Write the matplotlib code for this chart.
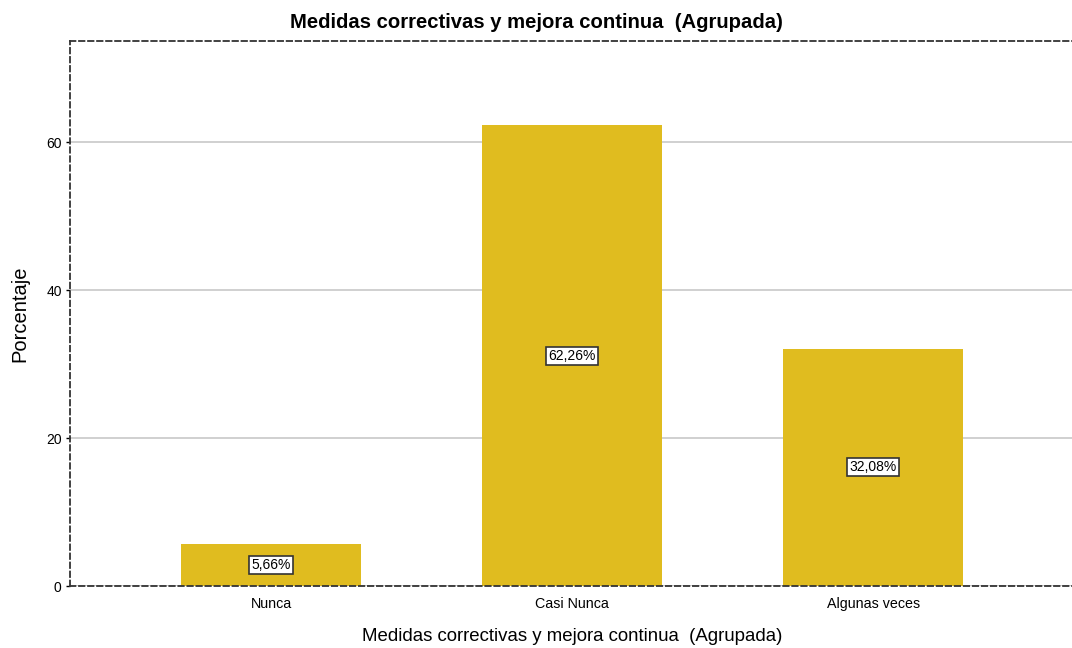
import matplotlib
matplotlib.use("Agg")
import matplotlib.pyplot as plt

categories = ["Nunca", "Casi Nunca", "Algunas veces"]
values = [5.66, 62.26, 32.08]
labels = ["5,66%", "62,26%", "32,08%"]
yticks = [0, 20, 40, 60]

plt.rcParams['font.family'] = ['Liberation Sans', 'DejaVu Sans']

fig = plt.figure(figsize=(10.72, 6.48), dpi=100)
ax = fig.add_axes([70/1072, 62/648, 1 - 70/1072 + 0.002, (586-41)/648])

x = list(range(len(categories)))
ax.bar(x, values, width=0.6, color="#E0BC1F", zorder=2)
for xi, v, lab in zip(x, values, labels):
    ax.text(xi, v/2, lab, ha="center", va="center", fontsize=10,
            bbox=dict(boxstyle="square,pad=0.15", fc="white", ec="#333333", lw=1.2), zorder=3)

ax.set_xlim(-0.668, 2.668)
ax.set_ylim(0, 73.65)
ax.set_yticks(yticks)
ax.set_yticklabels([str(t) for t in yticks], fontsize=10)
ax.set_xticks(x)
ax.set_xticklabels(categories, fontsize=10.3)
ax.tick_params(axis="x", length=0, pad=8)
ax.tick_params(axis="y", length=3, width=1, pad=3)
ax.yaxis.grid(True, color="#c8c8c8", lw=1.2, zorder=1)
ax.set_axisbelow(True)

for s in ["left", "top", "bottom"]:
    ax.spines[s].set_linestyle((0, (3, 2)))
    ax.spines[s].set_linewidth(1.3)
    ax.spines[s].set_color("#333333")
ax.spines["right"].set_visible(False)
ax.spines["bottom"].set_zorder(4)

ax.set_ylabel("Porcentaje", fontsize=14.5, labelpad=12)
ax.set_xlabel("Medidas correctivas y mejora continua  (Agrupada)", fontsize=13.4, labelpad=12)
fig.text(0.5, 1 - 23/648, "Medidas correctivas y mejora continua  (Agrupada)",
         ha="center", va="center", fontsize=14.6, fontweight="bold")

fig.savefig("out.png", dpi=100)
